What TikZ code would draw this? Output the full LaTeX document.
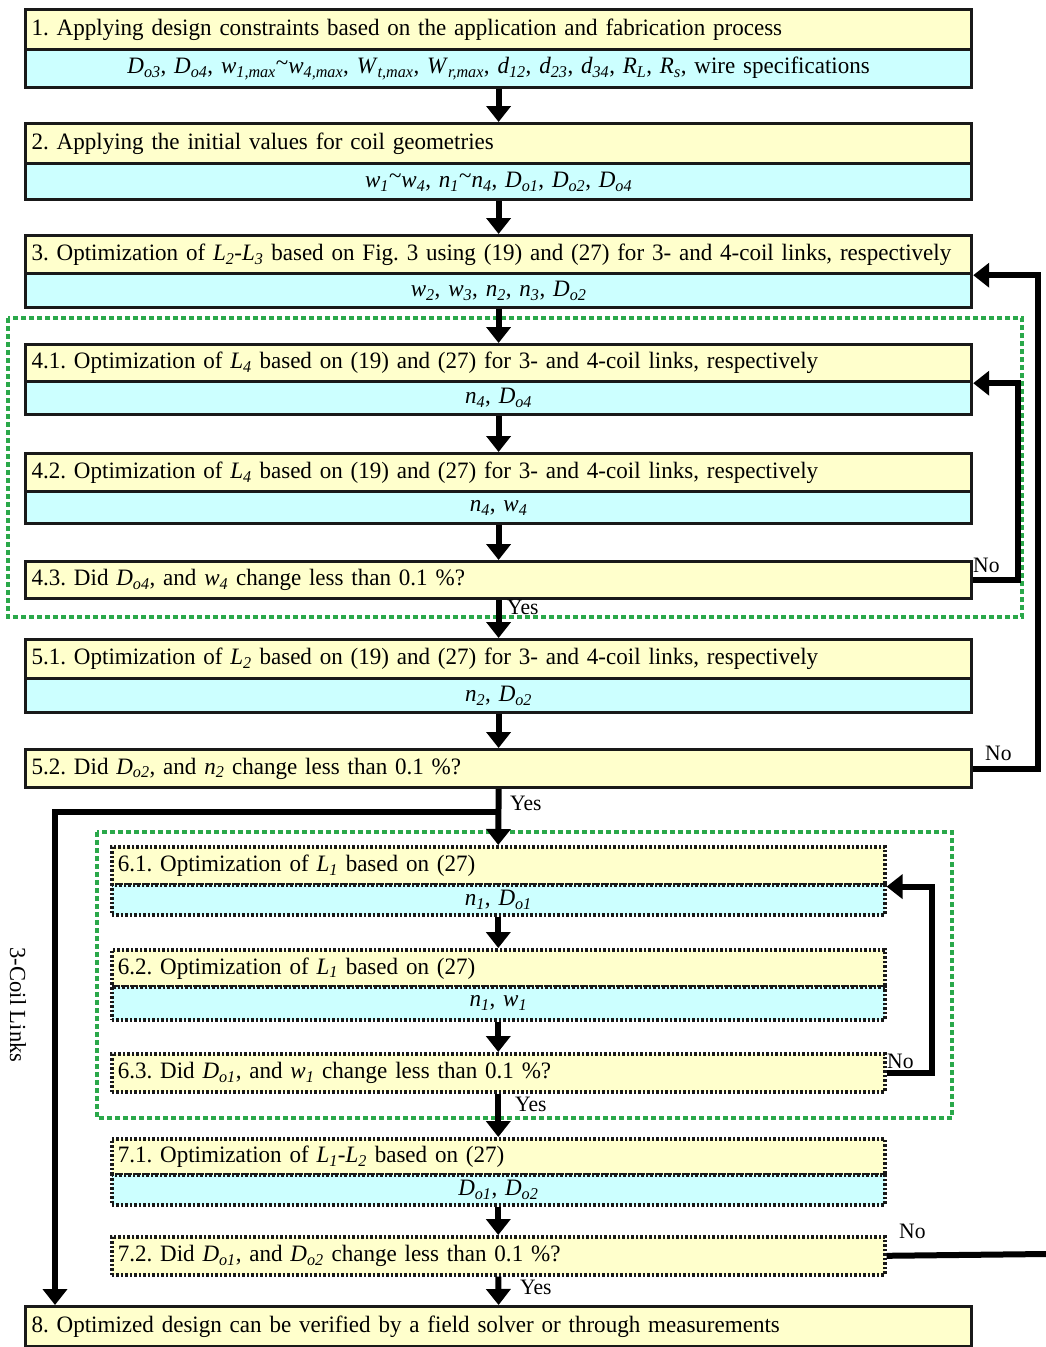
\documentclass[tikz,border=0pt]{standalone}
\usepackage{fontspec}
\setmainfont{Liberation Serif}[FakeStretch=0.98]
\usetikzlibrary{arrows.meta,calc}
\definecolor{yel}{HTML}{FFFFCC}
\definecolor{cya}{HTML}{CCFFFF}
\definecolor{grn}{HTML}{2AA84A}
\newcommand{\iv}[2]{\textit{#1}\textsubscript{\textit{#2}}}
\newcommand{\tld}{\raisebox{0.15em}{\textasciitilde}}
\frenchspacing
\tikzset{
  x=1pt, y=-1pt,
  base/.style={draw=black!90, line width=3.2pt, inner xsep=6pt, inner ysep=0pt,
    font=\fontsize{23.5}{26}\selectfont, anchor=north west},
  ybox/.style={base, fill=yel, text width=934pt, align=left, minimum height=#1},
  cbox/.style={base, fill=cya, text width=934pt, align=center, minimum height=#1},
  dybox/.style={ybox=#1, text width=761pt, line width=3.6pt, dash pattern=on 2.5pt off 2pt},
  dcbox/.style={cbox=#1, text width=761pt, line width=3.6pt, dash pattern=on 2.5pt off 2pt},
  arr/.style={draw=black, line width=6pt, -{Triangle[length=16pt,width=24pt]}},
  thick line/.style={draw=black, line width=6pt},
  grp/.style={draw=grn, line width=3.5pt, dash pattern=on 5pt off 3pt},
  lbl/.style={font=\fontsize{22}{24}\selectfont, inner sep=1pt}
}
\begin{document}
\begin{tikzpicture}
\useasboundingbox (0,0) rectangle (1045,1347);
\fill[white] (0,0) rectangle (1045,1347);

% group frames
\draw[grp] (8,318) rectangle (1022,617);
\draw[grp] (97,832) rectangle (952,1118);

% step 1
\node[ybox=40] (b1y) at (24,8) {1. Applying design constraints based on the application and fabrication process};
\node[cbox=38] (b1c) at (24,48) {\iv{D}{o3}, \iv{D}{o4}, \iv{w}{1,max}\tld\iv{w}{4,max}, \iv{W}{t,max}, \iv{W}{r,max}, \iv{d}{12}, \iv{d}{23}, \iv{d}{34}, \iv{R}{L}, \iv{R}{s}, wire specifications};
% step 2
\node[ybox=40] (b2y) at (24,122) {2. Applying the initial values for coil geometries};
\node[cbox=36] (b2c) at (24,162) {\iv{w}{1}\tld\iv{w}{4}, \iv{n}{1}\tld\iv{n}{4}, \iv{D}{o1}, \iv{D}{o2}, \iv{D}{o4}};
% step 3
\node[ybox=38] (b3y) at (24,234) {3. Optimization of \iv{L}{2}-\iv{L}{3} based on Fig.~3 using (19) and (27) for 3- and 4-coil links, respectively};
\node[cbox=34] (b3c) at (24,272) {\iv{w}{2}, \iv{w}{3}, \iv{n}{2}, \iv{n}{3}, \iv{D}{o2}};
% step 4
\node[ybox=37] (b41y) at (24,343) {4.1. Optimization of \iv{L}{4} based on (19) and (27) for 3- and 4-coil links, respectively};
\node[cbox=33] (b41c) at (24,380) {\iv{n}{4}, \iv{D}{o4}};
\node[ybox=38] (b42y) at (24,452) {4.2. Optimization of \iv{L}{4} based on (19) and (27) for 3- and 4-coil links, respectively};
\node[cbox=32] (b42c) at (24,490) {\iv{n}{4}, \iv{w}{4}};
\node[ybox=37] (b43) at (24,560) {4.3. Did \iv{D}{o4}, and \iv{w}{4} change less than 0.1 \%?};
% step 5
\node[ybox=39] (b51y) at (24,638) {5.1. Optimization of \iv{L}{2} based on (19) and (27) for 3- and 4-coil links, respectively};
\node[cbox=34] (b51c) at (24,677) {\iv{n}{2}, \iv{D}{o2}};
\node[ybox=38] (b52) at (24,748) {5.2. Did \iv{D}{o2}, and \iv{n}{2} change less than 0.1 \%?};
% step 6
\node[dybox=38] (b61y) at (110,845) {6.1. Optimization of \iv{L}{1} based on (27)};
\node[dcbox=30] (b61c) at (110,883) {\iv{n}{1}, \iv{D}{o1}};
\node[dybox=37] (b62y) at (110,948) {6.2. Optimization of \iv{L}{1} based on (27)};
\node[dcbox=33] (b62c) at (110,985) {\iv{n}{1}, \iv{w}{1}};
\node[dybox=38] (b63) at (110,1052) {6.3. Did \iv{D}{o1}, and \iv{w}{1} change less than 0.1 \%?};
% step 7
\node[dybox=36] (b71y) at (110,1137) {7.1. Optimization of \iv{L}{1}-\iv{L}{2} based on (27)};
\node[dcbox=30] (b71c) at (110,1173) {\iv{D}{o1}, \iv{D}{o2}};
\node[dybox=38] (b72) at (110,1235) {7.2. Did \iv{D}{o1}, and \iv{D}{o2} change less than 0.1 \%?};
% step 8
\node[ybox=40] (b8) at (24,1305) {8. Optimized design can be verified by a field solver or through measurements};

% main flow
\draw[arr] (b1c.south) -- (b2y.north);
\draw[arr] (b2c.south) -- (b3y.north);
\draw[arr] (b3c.south) -- (b41y.north);
\draw[arr] (b41c.south) -- (b42y.north);
\draw[arr] (b42c.south) -- (b43.north);
\draw[arr] (b43.south) -- (b51y.north);
\draw[arr] (b51c.south) -- (b52.north);
\draw[arr] (b52.south) -- (b61y.north);
\draw[arr] (b61c.south) -- (b62y.north);
\draw[arr] (b62c.south) -- (b63.north);
\draw[arr] (b63.south) -- (b71y.north);
\draw[arr] (b71c.south) -- (b72.north);
\draw[arr] (b72.south) -- (b8.north);

% loops
\draw[arr] (b43.east) -- ++(45,0) |- (b41y.south east);
\draw[arr] (b52.east) -- ++(65,0) |- (b3y.south east);
\draw[arr] (b63.east) -- ++(45,0) |- (b61y.south east);
\coordinate (edge72) at (1046,1254);
\draw[thick line] (b72.east) -- (edge72);

% 3-coil bypass
\coordinate (br) at (497,812);
\coordinate (b8in) at (55,1305);
\draw[arr] (br) -| (b8in);
\node[lbl, rotate=-90, font=\fontsize{23}{25}\selectfont] (coil3) at (18,1005) {3-Coil Links};

% labels
\node[lbl, anchor=south west] (no43) at (972,574) {No};
\node[lbl, anchor=south west] (no52) at (984,762) {No};
\node[lbl, anchor=south west] (no63) at (886,1070) {No};
\node[lbl, anchor=south west] (no72) at (898,1240) {No};
\node[lbl, anchor=west] (y43) at (506,607) {Yes};
\node[lbl, anchor=west] (y52) at (509,803) {Yes};
\node[lbl, anchor=west] (y63) at (514,1104) {Yes};
\node[lbl, anchor=west] (y72) at (519,1287) {Yes};
\end{tikzpicture}
\end{document}
